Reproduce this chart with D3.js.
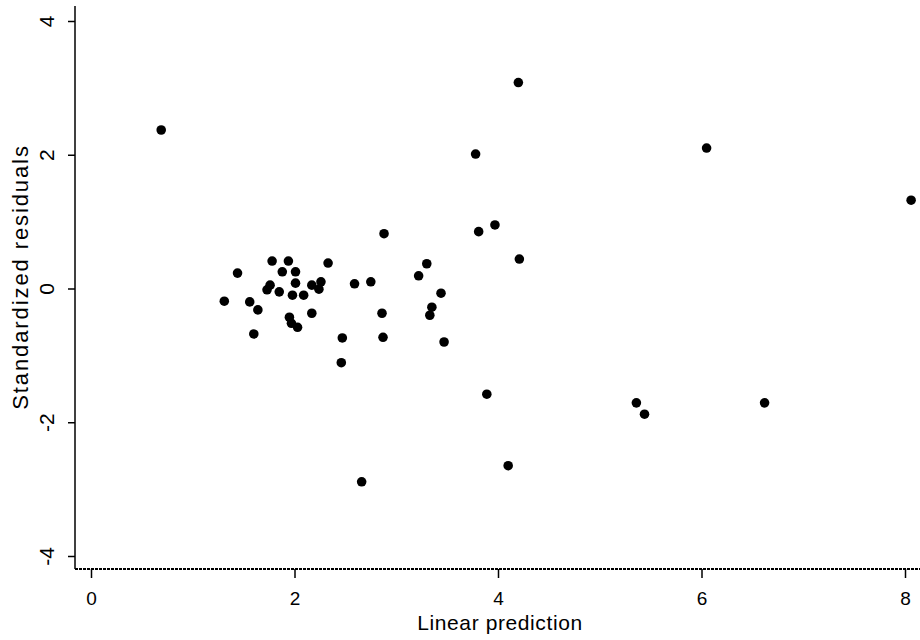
<!DOCTYPE html>
<html>
<head>
<meta charset="utf-8">
<script src="https://cdn.jsdelivr.net/npm/d3@7"></script>
<style>
  html, body { margin: 0; padding: 0; background: #fff; }
  svg { display: block; }
  text { font-family: "Liberation Sans", Arial, sans-serif; fill: #000; }
</style>
</head>
<body>
<svg id="chart" width="920" height="640"></svg>
<script>
// Linear prediction (x) and standardized residuals (y)
const linearPrediction = [
  0.69, 4.20, 3.78, 6.05, 8.06, 2.88, 3.97, 3.81, 4.21, 3.30,
  3.22, 3.44, 3.35, 3.33, 3.47, 3.89, 4.10, 2.66, 5.36, 5.44,
  6.62, 2.59, 2.75, 2.86, 2.87, 2.47, 2.46, 2.33, 1.44, 1.78,
  1.94, 1.88, 2.01, 2.01, 1.76, 1.73, 1.85, 1.98, 2.09, 2.17,
  2.26, 2.24, 1.31, 1.56, 1.64, 2.17, 1.95, 1.97, 2.03, 1.60
];
const standardizedResiduals = [
  2.37, 3.08, 2.01, 2.10, 1.32, 0.82, 0.95, 0.85, 0.44, 0.37,
  0.19, -0.07, -0.28, -0.40, -0.80, -1.58, -2.65, -2.89, -1.71, -1.88,
  -1.71, 0.07, 0.10, -0.37, -0.73, -0.74, -1.11, 0.38, 0.23, 0.41,
  0.41, 0.25, 0.25, 0.08, 0.05, -0.02, -0.05, -0.10, -0.10, 0.05,
  0.10, -0.01, -0.19, -0.20, -0.32, -0.37, -0.43, -0.52, -0.58, -0.68
];
const xTicks = [0, 2, 4, 6, 8];
const yTicks = [-4, -2, 0, 2, 4];
const xTitle = "Linear prediction";
const yTitle = "Standardized residuals";

const svg = d3.select("#chart");
svg.append("rect").attr("width", 920).attr("height", 640).attr("fill", "#fff");

const x = d3.scaleLinear().domain([0, 8]).range([91, 905]);
const y = d3.scaleLinear().domain([-4, 4]).range([556, 21]);

const axisX = 75;     // y-axis position
const baseY = 569;    // bottom (dashed) axis line
const fmt = d => String(d);

// Y axis
const gy = svg.append("g").attr("transform", `translate(${axisX},0)`)
  .call(d3.axisLeft(y).tickValues(yTicks).tickSize(7).tickFormat(fmt));
gy.select(".domain").remove();
gy.selectAll(".tick line").attr("stroke", "#000").attr("stroke-width", 1.5);
gy.selectAll(".tick text")
  .attr("x", null).attr("dy", null)
  .attr("transform", "translate(-21,0) rotate(-90)")
  .attr("text-anchor", "middle")
  .style("font-size", "21px")
  .style("font-family", "'Liberation Sans', Arial, sans-serif");
svg.append("line")
  .attr("x1", axisX).attr("x2", axisX)
  .attr("y1", 6).attr("y2", baseY)
  .attr("stroke", "#000").attr("stroke-width", 1.5);

// X axis
const gx = svg.append("g").attr("transform", `translate(0,${baseY})`)
  .call(d3.axisBottom(x).tickValues(xTicks).tickSize(9).tickFormat(fmt));
gx.select(".domain").remove();
gx.selectAll(".tick line").attr("stroke", "#000").attr("stroke-width", 1.5);
gx.selectAll(".tick text")
  .attr("dy", null).attr("y", 36)
  .style("font-size", "19px")
  .style("font-family", "'Liberation Sans', Arial, sans-serif");
svg.append("line")
  .attr("x1", axisX).attr("x2", 920)
  .attr("y1", baseY).attr("y2", baseY)
  .attr("stroke", "#000").attr("stroke-width", 2)
  .attr("stroke-dasharray", "3,1");

// Titles
svg.append("text")
  .attr("x", 500).attr("y", 630)
  .attr("text-anchor", "middle")
  .style("font-size", "21px")
  .style("letter-spacing", "0.6px")
  .text(xTitle);
svg.append("text")
  .attr("transform", "translate(28,277) rotate(-90)")
  .attr("text-anchor", "middle")
  .style("font-size", "22px")
  .style("letter-spacing", "1.9px")
  .text(yTitle);

// Points
const pts = linearPrediction.map((v, i) => ({ x: v, y: standardizedResiduals[i] }));
svg.append("g").selectAll("path").data(pts).join("path")
  .attr("transform", d => `translate(${x(d.x)},${y(d.y)})`)
  .attr("d", d3.symbol(d3.symbolCircle, 72))
  .attr("fill", "#000");
</script>
</body>
</html>
